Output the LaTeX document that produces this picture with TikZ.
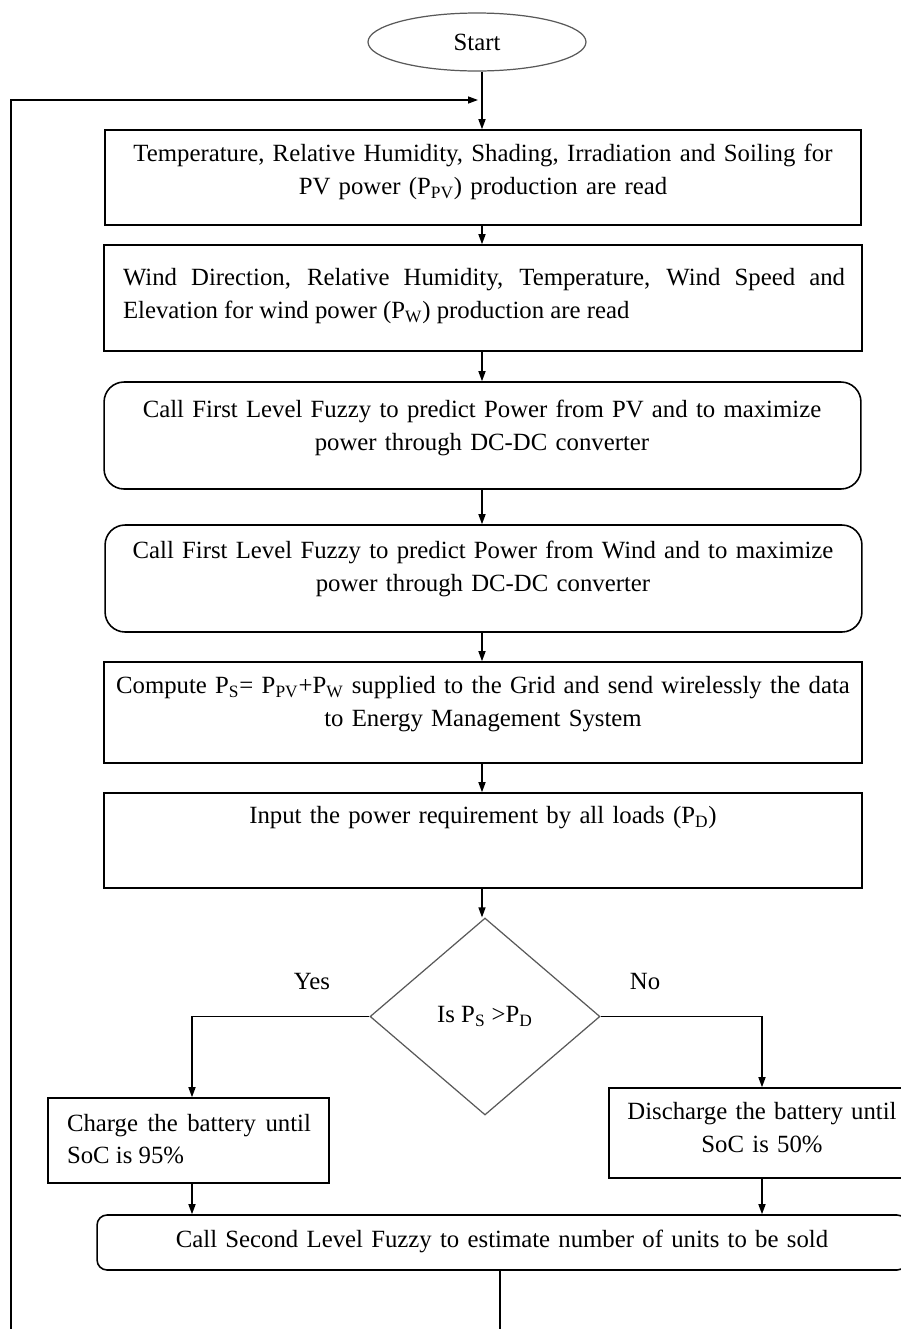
\documentclass[tikz,border=0pt]{standalone}
\usepackage{fontspec}
\setmainfont{Liberation Serif}
\usepackage{tikz}
\usetikzlibrary {arrows.meta}
\usetikzlibrary {shapes.geometric}
\hyphenpenalty=10000
\exhyphenpenalty=10000

\begin{document}
\begin{tikzpicture}[x=0.02cm,y=-0.02cm,
        font=\fontsize{14.1}{18.6}\selectfont,
        box/.style={draw,line width=0.9pt,inner sep=0pt},
        rbox/.style={box,rounded corners=0.4cm},
        txt/.style={inner sep=0pt,text width=14.9cm,align=center},
        arr/.style={line width=0.8pt,-{Triangle[length=2mm,width=1.4mm]}}]
        \useasboundingbox (0,0) rectangle (901,1329);
        \clip (0,0) rectangle (901,1329);
        \coordinate (axis) at (482,0);%中心線

        \node[draw=black!65,line width=0.7pt,ellipse,minimum width=4.36cm,minimum height=1.16cm,inner sep=0pt] (start) at (477,42) {Start};

        \node[box,minimum width=15.12cm,minimum height=1.9cm] (pv) at (483,177.5) {};
        \node[txt] (pvtxt) at (483,172) {Temperature, Relative Humidity, Shading, Irradiation and Soiling for\\PV power (P\textsubscript{PV}) production are read};

        \node[box,minimum width=15.16cm,minimum height=2.12cm] (wind) at (483,298) {};
        \node[txt,text width=14.44cm,align=justify] (windtxt) at (484,296) {Wind Direction, Relative Humidity, Temperature, Wind Speed and Elevation for wind power (P\textsubscript{W}) production are read};

        \node[rbox,minimum width=15.14cm,minimum height=2.14cm] (fuzzypv) at (482.5,435.5) {};
        \node[txt] (fuzzypvtxt) at (482,428) {Call First Level Fuzzy to predict Power from PV and to maximize\\power through DC-DC converter};

        \node[rbox,minimum width=15.14cm,minimum height=2.14cm] (fuzzyw) at (483.5,578.5) {};
        \node[txt] (fuzzywtxt) at (483,569) {Call First Level Fuzzy to predict Power from Wind and to maximize\\power through DC-DC converter};

        \node[box,minimum width=15.16cm,minimum height=2.02cm] (comp) at (483,712.5) {};
        \node[txt] (comptxt) at (483,704) {Compute P\textsubscript{S}= P\textsubscript{PV}+P\textsubscript{W} supplied to the Grid and send wirelessly the data\\to Energy Management System};

        \node[box,minimum width=15.16cm,minimum height=1.9cm] (load) at (483,840.5) {};
        \node[txt] (loadtxt) at (483,818) {Input the power requirement by all loads (P\textsubscript{D})};

        \node[draw=black!65,line width=0.7pt,diamond,minimum width=4.6cm,minimum height=3.94cm,inner sep=0pt] (dec) at (485,1016.5) {Is P\textsubscript{S} >P\textsubscript{D}};
        \node (yes) at (312,981) {Yes};
        \node (no) at (645,981) {No};

        \node[box,minimum width=5.62cm,minimum height=1.7cm] (charge) at (188.5,1140.5) {};
        \node[txt,text width=4.88cm,align=justify] (chargetxt) at (189,1139) {Charge the battery until SoC is 95\%};

        \node[box,minimum width=6.12cm,minimum height=1.8cm] (discharge) at (762,1133) {};
        \node[txt,text width=5.6cm] (dischargetxt) at (762,1127.5) {Discharge the battery until\\SoC is 50\%};

        \node[box,rounded corners=0.2cm,minimum width=16.2cm,minimum height=1.1cm] (sell) at (502,1242.5) {};
        \node[txt] (selltxt) at (502,1241) {Call Second Level Fuzzy to estimate number of units to be sold};

        \coordinate (loopin) at (478,100);%戻り
        \coordinate (loopbot) at (11,1329);
        \coordinate (exit) at (500,1329);

        \draw[arr] (start.south -| axis)--(pv.north -| axis);
        \foreach \a/\b in {pv/wind,wind/fuzzypv,fuzzypv/fuzzyw,fuzzyw/comp,comp/load,load/dec}
          \draw[arr] (\a.south -| axis)--(\b.north -| axis);
        \draw[arr] (loopbot) |- (loopin);%ループ
        \draw[arr] (dec.west) -| (192,0 |- charge.north);%Yes
        \draw[arr] (dec.east) -| (discharge.north);%No
        \draw[arr] (charge.south -| 192,0)--(192,0 |- sell.north);
        \draw[arr] (discharge.south)--(discharge.south |- sell.north);
        \draw[line width=0.8pt] (sell.south -| exit)--(exit);
      \end{tikzpicture}
\end{document}
